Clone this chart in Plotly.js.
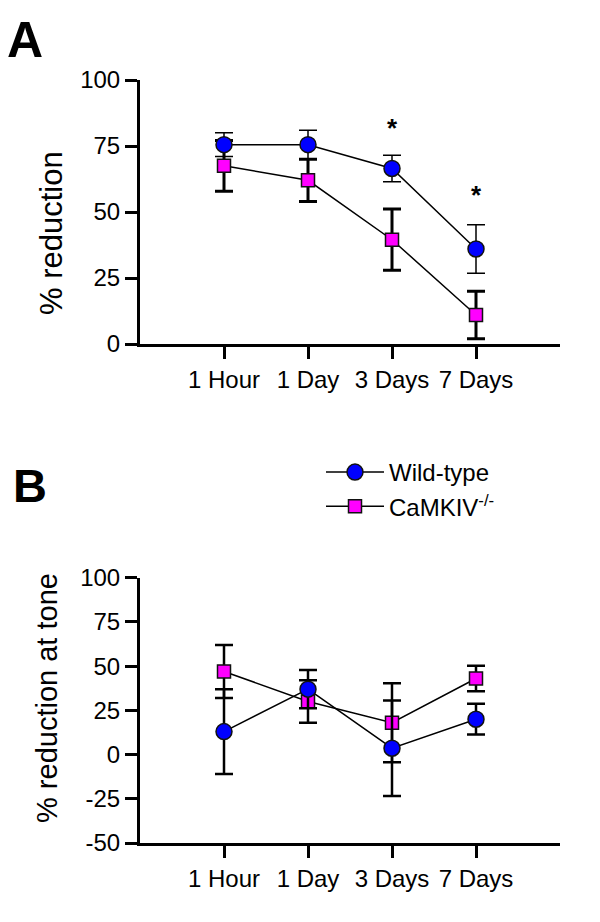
<!DOCTYPE html>
<html>
<head>
<meta charset="utf-8">
<script src="https://cdn.plot.ly/plotly-3.0.1.min.js"></script>
<style>
html,body{margin:0;padding:0;background:#fff;}
#chart{width:600px;height:922px;}
</style>
</head>
<body>
<div id="chart"></div>
<script>
// Categories
const categories = ['1 Hour', '1 Day', '3 Days', '7 Days'];

// Panel A: % reduction
const aWildMean = [75.5, 75.5, 66.5, 36];
const aWildErr  = [4.5, 5.5, 5, 9.2];
const aKoMean   = [67.5, 62, 39.5, 11];
const aKoErr    = [9.6, 8, 11.6, 9];

// Panel B: % reduction at tone
const bWildMean = [13, 37, 3.6, 20];
const bWildErr  = [24, 10.8, 27, 8.7];
const bKoMean   = [47, 30, 18, 43];
const bKoErr    = [15, 12, 22.3, 7.2];

// Significance marks (panel A)
const starCats = ['3 Days', '7 Days'];
const starY    = [82, 56.5];

const aTicks = [0, 25, 50, 75, 100];
const bTicks = [-50, -25, 0, 25, 50, 75, 100];

const seriesNames = ['Wild-type', 'CaMKIV<sup>-/-</sup>'];

const FONT = 'Liberation Sans, Arial, sans-serif';
const W = 600, H = 922;
const px = v => v / W;
const py = v => 1 - v / H;

function trace(y, err, xa, ya, name, color, symbol, size, errThick, showLeg, rank) {
  return {
    type: 'scatter', mode: 'lines+markers',
    x: categories, y: y, xaxis: xa, yaxis: ya,
    name: name, showlegend: showLeg, legendrank: rank,
    line: {color: '#000', width: 1.5},
    marker: {color: color, symbol: symbol, size: size, line: {color: '#111', width: 1.5}},
    error_y: {type: 'data', array: err, visible: true, color: '#000', thickness: errThick, width: 9},
    cliponaxis: false
  };
}

const data = [
  trace(aKoMean, aKoErr, 'x', 'y', seriesNames[1], '#ff00ff', 'square', 13, 3, false, 2),
  trace(aWildMean, aWildErr, 'x', 'y', seriesNames[0], '#0000ff', 'circle', 16, 1.5, false, 1),
  trace(bKoMean, bKoErr, 'x2', 'y2', seriesNames[1], '#ff00ff', 'square', 13, 2.5, true, 2),
  trace(bWildMean, bWildErr, 'x2', 'y2', seriesNames[0], '#0000ff', 'circle', 16, 2.5, true, 1)
];

const axisCommon = {
  showline: true, linewidth: 3, linecolor: '#000',
  ticks: 'outside', ticklen: 12, tickwidth: 3, tickcolor: '#000',
  showgrid: false, zeroline: false,
  tickfont: {family: FONT, size: 24, color: '#000'}
};

const layout = {
  width: W, height: H,
  margin: {l: 0, r: 0, t: 0, b: 0},
  paper_bgcolor: '#fff', plot_bgcolor: '#fff',
  font: {family: FONT, color: '#000'},
  showlegend: true,
  legend: {
    x: px(321), y: py(450), xanchor: 'left', yanchor: 'top',
    font: {family: FONT, size: 24, color: '#000'},
    bgcolor: 'rgba(0,0,0,0)', borderwidth: 0,
    itemwidth: 58, tracegroupgap: 0
  },
  xaxis: Object.assign({}, axisCommon, {
    domain: [px(140), px(560)], anchor: 'y',
    type: 'category', range: [-1, 4],
    tickvals: categories, ticktext: categories
  }),
  yaxis: Object.assign({}, axisCommon, {
    domain: [py(344), py(80)], anchor: 'x',
    range: [0, 100], tickvals: aTicks, ticktext: aTicks.map(String)
  }),
  xaxis2: Object.assign({}, axisCommon, {
    domain: [px(140), px(560)], anchor: 'y2',
    type: 'category', range: [-1, 4],
    tickvals: categories, ticktext: categories
  }),
  yaxis2: Object.assign({}, axisCommon, {
    domain: [py(843), py(577.7)], anchor: 'x2',
    range: [-50, 100], tickvals: bTicks, ticktext: bTicks.map(String)
  }),
  annotations: [
    {text: '<b>A</b>', xref: 'paper', yref: 'paper', x: px(5), y: py(40), xanchor: 'left', yanchor: 'middle',
     showarrow: false, font: {family: FONT, size: 50, color: '#000'}},
    {text: '<b>B</b>', xref: 'paper', yref: 'paper', x: px(11), y: py(485), xanchor: 'left', yanchor: 'middle',
     showarrow: false, font: {family: FONT, size: 47, color: '#000'}},
    {text: '% reduction', xref: 'paper', yref: 'paper', x: px(52), y: py(233), xanchor: 'center', yanchor: 'middle',
     textangle: -90, showarrow: false, font: {family: FONT, size: 31, color: '#000'}},
    {text: '% reduction at tone', xref: 'paper', yref: 'paper', x: px(47), y: py(698), xanchor: 'center', yanchor: 'middle',
     textangle: -90, showarrow: false, font: {family: FONT, size: 29, color: '#000'}}
  ].concat(starCats.map((c, i) => ({
    text: '<b>*</b>', xref: 'x', yref: 'y', x: c, y: starY[i], xanchor: 'center', yanchor: 'middle',
    showarrow: false, font: {family: FONT, size: 26, color: '#000'}
  })))
};

Plotly.newPlot('chart', data, layout, {staticPlot: true, displayModeBar: false});
</script>
</body>
</html>
